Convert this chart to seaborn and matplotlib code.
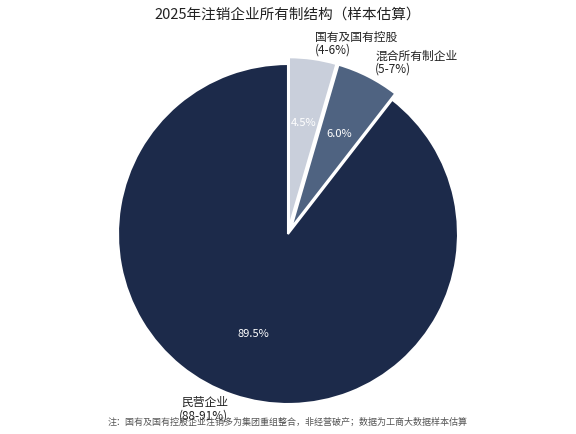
import matplotlib
matplotlib.use("Agg")
import matplotlib.pyplot as plt
import seaborn as sns

# data
labels = ["国有及国有控股\n(4-6%)", "混合所有制企业\n(5-7%)", "民营企业\n(88-91%)"]
shares = [4.5, 6.0, 89.5]
colors = ["#c9cfdb", "#4f6381", "#1c2a4a"]
explode = [0.04, 0.04, 0.0]

title = "2025年注销企业所有制结构（样本估算）"
note = "注：国有及国有控股企业注销多为集团重组整合，非经营破产；数据为工商大数据样本估算"

sns.set_theme(style="white")
plt.rcParams["font.family"] = ["Noto Sans CJK SC", "DejaVu Sans"]

fig = plt.figure(figsize=(5.76, 4.34), dpi=100)
ax = fig.add_axes([(288 - 212.5) / 576, (200 - 212.5) / 434, 425 / 576, 425 / 434])

wedges, texts, autotexts = ax.pie(
    shares, labels=labels, colors=colors, explode=explode,
    startangle=90, counterclock=False, autopct="%.1f%%",
    pctdistance=0.62, labeldistance=1.09,
    wedgeprops=dict(edgecolor="white", linewidth=1.5),
    textprops=dict(fontsize=8.5, color="#222222"),
)
for t in autotexts:
    t.set_color("white")
    t.set_fontsize(8)
for t in texts:
    t.set_linespacing(1.0)
ax.set_xlim(-1.25, 1.25)
ax.set_ylim(-1.25, 1.25)
ax.set_aspect("equal")

fig.text(0.5, 0.967, title, ha="center", va="center", fontsize=10.5, color="#222222")
fig.text(0.5, 0.027, note, ha="center", va="center", fontsize=6.5, color="#555555")

fig.savefig("out.png", dpi=100)
